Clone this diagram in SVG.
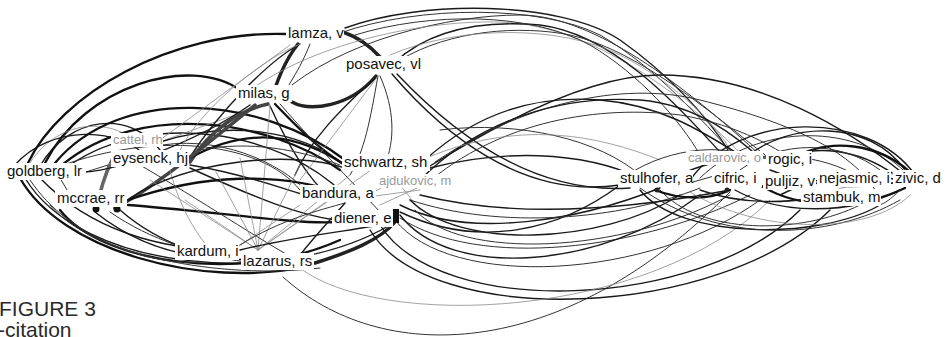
<svg xmlns="http://www.w3.org/2000/svg" width="946" height="337" viewBox="0 0 946 337">
<style>
.e path{fill:none;stroke-linecap:round}
.k1{stroke:#111;stroke-width:2.3}
.k2{stroke:#1a1a1a;stroke-width:1.4}
.k3{stroke:#333;stroke-width:1}
.k4{stroke:#8a8a8a;stroke-width:0.8}
.k5{stroke:#444;stroke-width:3.5}
.n rect{fill:#fff}
.n text{font-family:"Liberation Sans",Arial,sans-serif;font-size:15px;fill:#111}
.n.g text{font-size:13px;fill:#9a9a9a}
.cap{font-family:"Liberation Sans",Arial,sans-serif;font-size:21px;fill:#2a2a2a}
</style>
<g id="connectors" class="e">
<path class="k1" d="M28,163 C60,95 170,30 287,34"/>
<path class="k1" d="M45,163 C85,85 190,55 240,90"/>
<path class="k2" d="M40,166 C70,115 130,110 160,150"/>
<path class="k4" d="M28,166 C55,120 110,115 140,145"/>
<path class="k2" d="M15,165 C50,125 120,125 150,160"/>
<path class="k1" d="M55,163 C120,85 260,95 345,160"/>
<path class="k1" d="M62,165 C140,100 270,120 340,170"/>
<path class="k2" d="M70,165 C150,110 280,130 345,195"/>
<path class="k3" d="M50,170 C150,130 260,140 300,190"/>
<path class="k4" d="M165,140 L265,104"/>
<path class="k2" d="M160,142 C230,120 300,130 345,165"/>
<path class="k3" d="M162,145 C230,135 290,170 310,195"/>
<path class="k5" d="M190,162 C210,130 240,110 268,104"/>
<path class="k2" d="M188,160 C220,110 270,60 300,44"/>
<path class="k1" d="M190,158 C250,125 300,135 345,165"/>
<path class="k2" d="M190,165 C250,175 285,190 305,195"/>
<path class="k2" d="M190,168 C260,200 300,215 335,220"/>
<path class="k3" d="M86,172 L108,165 L100,190"/>
<path class="k5" d="M112,160 C105,175 100,190 98,205" style="stroke:#666"/>
<path class="k5" d="M255,105 C200,150 150,190 115,208"/>
<path class="k2" d="M250,105 C200,140 120,170 85,172"/>
<path class="k1" d="M275,104 C300,130 320,150 345,165"/>
<path class="k2" d="M270,106 C290,150 310,180 330,198"/>
<path class="k4" d="M270,106 L258,250"/>
<path class="k3" d="M280,104 C320,150 360,190 380,212"/>
<path class="k5" d="M298,44 C285,60 275,85 272,100" style="stroke:#222"/>
<path class="k3" d="M310,44 C300,70 285,90 280,100"/>
<path class="k5" d="M292,102 C310,112 350,107 376,76" style="stroke:#222"/>
<path class="k5" d="M343,32 C360,38 372,48 380,57" style="stroke:#222"/>
<path class="k4" d="M290,45 L160,140"/>
<path class="k4" d="M300,44 C260,60 200,110 180,150"/>
<path class="k3" d="M378,76 C370,120 365,150 350,175"/>
<path class="k4" d="M378,76 L300,180"/>
<path class="k3" d="M380,76 C395,110 395,140 385,165"/>
<path class="k2" d="M375,78 C340,110 310,140 295,175"/>
<path class="k2" d="M392,74 C440,130 520,200 620,185"/>
<path class="k2" d="M397,74 C450,130 530,195 630,188"/>
<path class="k1" d="M128,200 C200,175 280,170 345,195"/>
<path class="k1" d="M128,205 C200,210 300,225 335,222"/>
<path class="k2" d="M95,212 C130,240 170,255 215,258"/>
<path class="k3" d="M110,212 C150,240 200,255 245,262"/>
<path class="k1" d="M20,178 C60,250 200,290 310,266"/>
<path class="k2" d="M25,178 C80,270 280,290 390,225"/>
<path class="k1" d="M60,210 C100,262 240,285 340,240"/>
<path class="k3" d="M50,205 C90,255 220,280 320,268"/>
<path class="k3" d="M60,178 L70,195"/>
<path class="k2" d="M120,210 C160,245 220,265 255,258"/>
<path class="k4" d="M170,170 C180,210 200,240 215,255"/>
<path class="k2" d="M130,198 C190,160 290,150 345,168"/>
<path class="k3" d="M30,180 C70,240 150,265 200,262"/>
<path class="k2" d="M40,178 C90,230 160,250 230,250"/>
<path class="k3" d="M140,165 C200,200 260,240 300,262"/>
<path class="k4" d="M258,250 L215,170"/>
<path class="k4" d="M258,250 L240,158"/>
<path class="k4" d="M258,250 L300,165"/>
<path class="k4" d="M258,250 L330,200"/>
<path class="k4" d="M258,250 L185,200"/>
<path class="k4" d="M258,250 L350,175"/>
<path class="k4" d="M258,250 L385,160"/>
<path class="k4" d="M258,250 L150,180"/>
<path class="k4" d="M225,255 L300,205"/>
<path class="k5" d="M315,263 C350,252 380,240 395,222" style="stroke:#222"/>
<path class="k2" d="M300,255 C320,230 335,215 345,203"/>
<path class="k2" d="M240,250 C300,235 360,230 395,222"/>
<path class="k3" d="M240,245 C280,220 320,210 345,203"/>
<path class="k4" d="M345,200 L420,190"/>
<path class="k4" d="M360,200 L395,180"/>
<path class="k4" d="M400,185 L420,210"/>
<path class="k4" d="M380,205 L430,182"/>
<path class="k3" d="M340,165 C300,150 250,140 200,150"/>
<path class="k2" d="M345,28 C420,0 560,0 620,40 C670,75 710,120 728,150"/>
<path class="k3" d="M340,33 C420,5 540,5 600,35 C660,70 700,120 735,155"/>
<path class="k3" d="M280,95 C340,40 450,15 520,15 C600,15 700,100 760,155"/>
<path class="k4" d="M250,90 C320,40 430,20 500,22 C600,25 700,110 745,158"/>
<path class="k2" d="M395,62 C430,30 480,20 540,25 C620,35 690,120 720,152"/>
<path class="k3" d="M400,60 C450,30 520,25 570,35 C640,50 720,120 765,155"/>
<path class="k4" d="M390,55 C460,25 560,25 620,55 C680,85 720,130 730,150"/>
<path class="k3" d="M355,35 C430,12 530,12 590,45 C640,75 680,120 700,155"/>
<path class="k2" d="M430,166 C520,110 600,75 660,75 C760,75 850,130 905,175"/>
<path class="k3" d="M435,162 C520,105 620,80 700,100 C780,120 860,150 880,200"/>
<path class="k2" d="M430,168 C500,150 580,150 640,178"/>
<path class="k2" d="M425,160 C480,110 540,95 600,100 C660,105 700,130 740,155"/>
<path class="k2" d="M420,180 C480,120 560,95 640,100 C700,105 740,140 760,158"/>
<path class="k3" d="M425,185 C500,120 600,105 680,115 C740,125 780,150 800,165"/>
<path class="k3" d="M440,130 C520,120 600,140 640,175"/>
<path class="k4" d="M400,170 C480,130 560,120 660,160"/>
<path class="k2" d="M400,212 C480,250 560,230 620,185"/>
<path class="k2" d="M400,205 C470,240 580,220 660,188"/>
<path class="k3" d="M410,200 C500,230 620,220 700,188"/>
<path class="k2" d="M420,195 C500,215 600,215 730,190"/>
<path class="k3" d="M400,218 C480,270 640,250 750,195"/>
<path class="k3" d="M283,277 C380,365 560,365 730,192"/>
<path class="k2" d="M380,225 C440,320 700,310 800,210"/>
<path class="k2" d="M370,230 C430,330 720,320 830,210"/>
<path class="k3" d="M395,220 C450,290 650,280 760,200"/>
<path class="k2" d="M400,215 C450,280 600,270 700,195"/>
<path class="k3" d="M415,210 C460,260 620,255 730,195"/>
<path class="k2" d="M410,200 C460,250 600,245 680,195"/>
<path class="k4" d="M300,268 C380,330 650,320 770,200"/>
<path class="k2" d="M640,190 C680,240 820,240 880,205"/>
<path class="k3" d="M660,190 C700,235 800,235 860,205"/>
<path class="k2" d="M690,180 C740,110 870,110 915,175"/>
<path class="k3" d="M700,178 C760,120 860,125 905,172"/>
<path class="k2" d="M745,158 C790,120 870,120 905,170"/>
<path class="k1" d="M790,160 C830,135 880,145 910,172"/>
<path class="k2" d="M775,165 C810,140 860,150 895,175"/>
<path class="k3" d="M740,170 C780,140 840,140 880,170"/>
<path class="k2" d="M735,190 C780,215 850,215 900,190"/>
<path class="k1" d="M760,185 C800,210 860,210 905,188"/>
<path class="k2" d="M700,190 C740,205 800,205 830,192"/>
<path class="k2" d="M660,185 C700,160 760,150 800,165"/>
<path class="k3" d="M693,182 L714,176"/>
<path class="k1" d="M655,190 C680,200 710,200 730,190"/>
<path class="k4" d="M800,200 L905,170"/>
<path class="k2" d="M770,170 C820,190 860,190 910,180"/>
<path class="k2" d="M780,195 C830,170 870,170 915,185"/>
<path class="k3" d="M900,190 C890,200 885,203 880,205"/>
<path class="k3" d="M640,188 C720,245 830,240 900,200"/>
<path class="k4" d="M690,192 C760,235 870,235 910,195"/>
<path class="k3" d="M620,180 C660,150 720,140 760,160"/>
<path class="k3" d="M740,160 C790,150 840,160 870,185"/>
</g>
<circle cx="96" cy="209" r="3.5" fill="#111"/>
<circle cx="117" cy="209" r="3.5" fill="#111"/>
<circle cx="657" cy="190" r="2.5" fill="#222"/>
<circle cx="727" cy="190" r="2.5" fill="#222"/>
<rect x="393" y="209" width="6" height="14" fill="#111"/>
<g id="n-lamza" class="n"><rect x="286" y="25" width="58" height="17"/><text x="288" y="38">lamza, v</text></g>
<g id="n-posavec" class="n"><rect x="344" y="56" width="80" height="17"/><text x="346" y="69">posavec, vl</text></g>
<g id="n-milas" class="n"><rect x="236" y="85" width="56" height="17"/><text x="238" y="98">milas, g</text></g>
<g id="n-cattel" class="n g"><rect x="111" y="133" width="52" height="14"/><text x="113" y="144">cattel, rh</text></g>
<g id="n-eysenck" class="n"><rect x="111" y="150" width="78" height="17"/><text x="113" y="163">eysenck, hj</text></g>
<g id="n-goldberg" class="n"><rect x="5" y="163" width="81" height="17"/><text x="7" y="176">goldberg, lr</text></g>
<g id="n-mccrae" class="n"><rect x="55" y="190" width="72" height="17"/><text x="57" y="203">mccrae, rr</text></g>
<g id="n-kardum" class="n"><rect x="175" y="243" width="64" height="17"/><text x="177" y="256">kardum, i</text></g>
<g id="n-lazarus" class="n"><rect x="241" y="253" width="73" height="17"/><text x="243" y="266">lazarus, rs</text></g>
<g id="n-schwartz" class="n"><rect x="342" y="154" width="88" height="17"/><text x="344" y="167">schwartz, sh</text></g>
<g id="n-ajdukovic" class="n g"><rect x="377" y="174" width="75" height="14"/><text x="379" y="185">ajdukovic, m</text></g>
<g id="n-bandura" class="n"><rect x="300" y="185" width="76" height="17"/><text x="302" y="198">bandura, a</text></g>
<g id="n-diener" class="n"><rect x="332" y="210" width="61" height="17"/><text x="334" y="223">diener, e</text></g>
<g id="n-stulhofer" class="n"><rect x="618" y="170" width="75" height="17"/><text x="620" y="183">stulhofer, a</text></g>
<g id="n-caldarovic" class="n g"><rect x="686" y="151" width="77" height="14"/><text x="688" y="162">caldarovic, o</text></g>
<g id="n-cifric" class="n"><rect x="712" y="170" width="50" height="17"/><text x="714" y="183">cifric, i</text></g>
<g id="n-rogic" class="n"><rect x="766" y="151" width="46" height="17"/><text x="768" y="164">rogic, i</text></g>
<g id="n-puljiz" class="n"><rect x="763" y="173" width="53" height="17"/><text x="765" y="186">puljiz, v</text></g>
<g id="n-nejasmic" class="n"><rect x="817" y="170" width="74" height="17"/><text x="819" y="183">nejasmic, i</text></g>
<g id="n-zivic" class="n"><rect x="893" y="170" width="49" height="17"/><text x="895" y="183">zivic, d</text></g>
<g id="n-stambuk" class="n"><rect x="801" y="189" width="80" height="17"/><text x="803" y="202">stambuk, m</text></g>
<text class="cap" x="-1" y="316">FIGURE 3</text>
<text class="cap" x="-2" y="337">-citation</text>
</svg>
